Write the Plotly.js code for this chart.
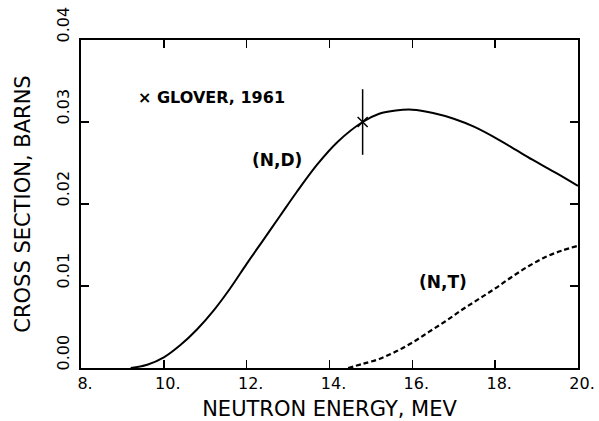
<!DOCTYPE html>
<html>
<head>
<meta charset="utf-8">
<script src="https://cdn.plot.ly/plotly-3.0.1.min.js"></script>
<style>html,body{margin:0;padding:0;background:#fff;}#chart{width:599px;height:421px;}</style>
</head>
<body>
<div id="chart"></div>
<script>
// (N,D) cross section, solid curve
const ndEnergy = [9.2, 9.6, 10.0, 10.4, 10.8, 11.2, 11.6, 12.0, 12.4, 12.8, 13.2, 13.7, 14.2, 14.8, 15.2, 15.6, 16.0, 16.5, 17.0, 17.5, 18.1, 18.5, 18.9, 19.5, 20.0];
const ndXS     = [0.0, 0.0004, 0.0013, 0.0028, 0.0047, 0.0070, 0.0097, 0.0127, 0.0156, 0.0185, 0.0214, 0.0248, 0.0276, 0.0300, 0.0310, 0.0314, 0.0315, 0.0311, 0.0304, 0.0294, 0.0278, 0.0266, 0.0254, 0.0237, 0.0222];
// (N,T) cross section, dashed curve
const ntEnergy = [14.45, 14.8, 15.2, 15.6, 16.0, 16.4, 16.8, 17.2, 17.6, 18.0, 18.4, 18.8, 19.2, 19.6, 20.0];
const ntXS     = [0.0, 0.0005, 0.0011, 0.0020, 0.0031, 0.0044, 0.0057, 0.0071, 0.0084, 0.0097, 0.0111, 0.0124, 0.0135, 0.0143, 0.0149];
// Glover 1961 measurement
const gloverE = [14.8];
const gloverXS = [0.030];
const gloverErr = [0.004];
// tick labels
const xTickVals = [8, 10, 12, 14, 16, 18, 20];
const xTickText = ["8.", "10.", "12.", "14.", "16.", "18.", "20."];
const yTickVals = [0, 0.01, 0.02, 0.03, 0.04];
const yTickText = ["0.00", "0.01", "0.02", "0.03", "0.04"];

const FONT = "DejaVu Sans, sans-serif";

const traces = [
  {x: ndEnergy, y: ndXS, mode: "lines", line: {color: "#000", width: 2, shape: "spline", smoothing: 1}, hoverinfo: "none"},
  {x: ntEnergy, y: ntXS, mode: "lines", line: {color: "#000", width: 2.2, dash: "5px,3px", shape: "spline", smoothing: 1}, hoverinfo: "none"},
  {x: gloverE, y: gloverXS, mode: "markers",
   marker: {symbol: "x-thin", size: 10, line: {color: "#000", width: 1.5}},
   error_y: {type: "data", array: gloverErr, visible: true, color: "#000", thickness: 1.5, width: 0},
   hoverinfo: "none"}
];

const layout = {
  width: 599, height: 421,
  margin: {l: 81, r: 21, t: 40, b: 53, pad: 0},
  paper_bgcolor: "#fff", plot_bgcolor: "#fff",
  showlegend: false,
  font: {family: FONT, color: "#000"},
  xaxis: {
    range: [8, 20], tickvals: xTickVals, ticktext: xTickText,
    ticks: "inside", ticklen: 8, tickwidth: 1.5, tickcolor: "#000",
    showline: true, linewidth: 2, linecolor: "#000", mirror: "ticks",
    showgrid: false, zeroline: false,
    tickfont: {family: FONT, size: 16, color: "#000"},
    ticklabelshift: 4,
    title: {text: "NEUTRON ENERGY, MEV", font: {family: FONT, size: 21, color: "#000"}, standoff: 13}
  },
  yaxis: {
    range: [0, 0.04], tickvals: yTickVals, ticktext: yTickText,
    ticks: "inside", ticklen: 8, tickwidth: 1.5, tickcolor: "#000",
    showline: true, linewidth: 2, linecolor: "#000", mirror: "ticks",
    showgrid: false, zeroline: false,
    tickangle: -90,
    tickfont: {family: FONT, size: 16, color: "#000"},
    ticklabelshift: -13,
    ticklabelstandoff: 4,
    title: {text: "CROSS SECTION, BARNS", font: {family: FONT, size: 21, color: "#000"}, standoff: 17}
  },
  annotations: [
    {x: 9.33, y: 0.0330, xref: "x", yref: "y", xanchor: "left", yanchor: "middle", showarrow: false,
     text: "<b>× GLOVER, 1961</b>", font: {family: FONT, size: 16, color: "#000"}},
    {x: 12.08, y: 0.0254, xref: "x", yref: "y", xanchor: "left", yanchor: "middle", showarrow: false,
     text: "<b>(N,D)</b>", font: {family: FONT, size: 17, color: "#000"}},
    {x: 16.11, y: 0.0105, xref: "x", yref: "y", xanchor: "left", yanchor: "middle", showarrow: false,
     text: "<b>(N,T)</b>", font: {family: FONT, size: 17, color: "#000"}}
  ]
};

Plotly.newPlot("chart", traces, layout, {staticPlot: true, displayModeBar: false});
</script>
</body>
</html>
